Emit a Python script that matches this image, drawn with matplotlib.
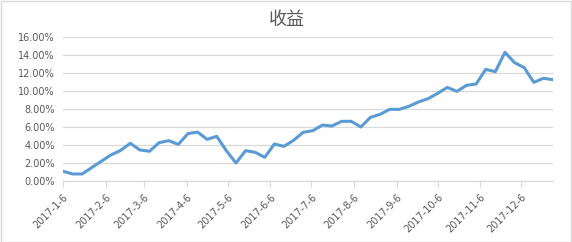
import matplotlib
matplotlib.use('Agg')
from matplotlib import pyplot as plt
from matplotlib.patches import Rectangle
from matplotlib.ticker import FuncFormatter
import numpy as np
import pandas as pd

# weekly returns, Friday closes
dates = pd.date_range('2017-01-06', periods=52, freq='7D')
returns = [1.08, 0.78, 0.78, 1.5, 2.2, 2.9, 3.4, 4.19, 3.45, 3.3,
           4.26, 4.48, 4.07, 5.26, 5.44, 4.63, 4.96, 3.37, 2.0, 3.37,
           3.19, 2.63, 4.11, 3.85, 4.52, 5.41, 5.59, 6.22, 6.11, 6.63,
           6.63, 6.0, 7.07, 7.41, 7.96, 7.96, 8.3, 8.78, 9.15, 9.74,
           10.4, 9.96, 10.63, 10.78, 12.4, 12.15, 14.3, 13.15, 12.6, 10.96,
           11.41, 11.26]
month_ticks = pd.date_range('2017-01-01', periods=12, freq='MS') + pd.Timedelta(days=5)
tick_labels = ['2017-%d-6' % m for m in range(1, 13)]
title = '收益'

text_color = '#595959'
grid_color = '#d9d9d9'
line_color = '#5b9bd5'

fig = plt.figure(figsize=(5.72, 2.42), dpi=100)
ax = fig.add_axes([63 / 572, 1 - 181 / 242, 490 / 572, 144 / 242])

ax.plot(dates, np.array(returns) / 100, color=line_color, linewidth=2.2,
        solid_joinstyle='round')

ax.set_xlim(dates[0], dates[-1])
ax.set_ylim(0, 0.16)
ax.set_yticks(np.arange(0, 0.161, 0.02))
ax.yaxis.set_major_formatter(FuncFormatter(lambda v, p: '%.2f%%' % (v * 100)))
ax.set_xticks(month_ticks)
ax.set_xticklabels(tick_labels, rotation=45, ha='right', rotation_mode='anchor')

ax.grid(axis='y', color=grid_color, linewidth=0.9)
ax.set_axisbelow(True)
for s in ['top', 'right', 'left']:
    ax.spines[s].set_visible(False)
ax.spines['bottom'].set_color(grid_color)
ax.spines['bottom'].set_linewidth(0.9)

ax.tick_params(axis='y', length=0, labelsize=7, labelcolor=text_color, pad=6)
ax.tick_params(axis='x', length=4, color=grid_color, labelsize=7,
               labelcolor=text_color, pad=4)

fig.text(287 / 572, 1 - 20 / 242, title, ha='center', va='center',
         fontsize=13, color=text_color, family=['Noto Sans CJK SC', 'DejaVu Sans'])

# chart border
fig.add_artist(Rectangle((0.001, 0.002), 0.997, 0.995, transform=fig.transFigure,
                         fill=False, edgecolor=grid_color, linewidth=1))

plt.savefig('out.png', dpi=100)
